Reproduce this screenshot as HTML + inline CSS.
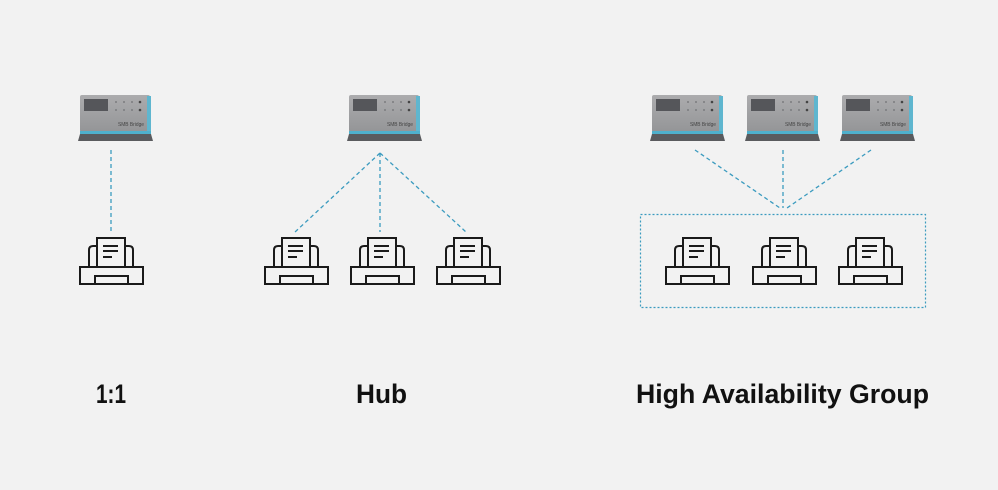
<!DOCTYPE html>
<html><head><meta charset="utf-8"><style>
html,body{margin:0;padding:0;background:#f2f2f2;}
svg{display:block;}
</style></head><body>
<svg width="998" height="490" viewBox="0 0 998 490" xmlns="http://www.w3.org/2000/svg">
<defs>
<linearGradient id="bg" x1="0" y1="0" x2="0" y2="1">
<stop offset="0" stop-color="#acacae"/><stop offset="1" stop-color="#949597"/>
</linearGradient>
<g id="dev">
<rect x="2" y="2" width="70" height="37" rx="2" fill="url(#bg)"/>
<rect x="69" y="3" width="4" height="35" fill="#5fb6cf"/>
<rect x="6" y="6" width="24" height="12" fill="#55565a"/>
<g fill="#7b7c7f"><circle cx="38" cy="9" r="1"/><circle cx="46" cy="9" r="1"/><circle cx="54" cy="9" r="1"/><circle cx="62" cy="9" r="1.3" fill="#444"/>
<circle cx="38" cy="17" r="1"/><circle cx="46" cy="17" r="1"/><circle cx="54" cy="17" r="1"/><circle cx="62" cy="17" r="1.3" fill="#444"/></g>
<text x="40" y="33" font-family="Liberation Sans, sans-serif" font-size="5.5" fill="#444" textLength="26" lengthAdjust="spacingAndGlyphs">SMB Bridge</text>
<rect x="2" y="38" width="71" height="3" fill="#4fb0cc"/>
<path d="M2 41 H73 L75 48 H0 Z" fill="#5a5b5e"/>
</g>
<g id="pr" fill="none" stroke="#1a1a1a" stroke-width="2">
<path d="M10 30 V13 Q10 9 14 9 H18 M54 30 V13 Q54 9 50 9 H46"/>
<rect x="18" y="1" width="28" height="29" fill="#f2f2f2"/>
<rect x="1" y="30" width="63" height="17"/>
<rect x="16" y="39" width="33" height="8"/>
<path d="M24 9 H39 M24 14 H39 M24 20 H33"/>
</g>
</defs>
<use href="#dev" x="78" y="93"/>
<use href="#dev" x="347" y="93"/>
<use href="#dev" x="650" y="93"/>
<use href="#dev" x="745" y="93"/>
<use href="#dev" x="840" y="93"/>
<g stroke="#3b9bbf" stroke-width="1.3" stroke-dasharray="4 3" fill="none">
<path d="M111 150 V232"/>
<path d="M380 153 L295 232 M380 153 V232 M380 153 L466 232"/>
<path d="M695 150 L780 208 M783 150 V208 M871 150 L787 208"/>
</g>
<rect x="640.5" y="214.5" width="285" height="93" fill="none" stroke="#3b9bbf" stroke-width="1.2" stroke-dasharray="2 2"/>
<use href="#pr" x="79" y="237"/>
<use href="#pr" x="264" y="237"/>
<use href="#pr" x="350" y="237"/>
<use href="#pr" x="436" y="237"/>
<use href="#pr" x="665" y="237"/>
<use href="#pr" x="752" y="237"/>
<use href="#pr" x="838" y="237"/>
<g font-family="Liberation Sans, sans-serif" font-size="27" font-weight="bold" fill="#111">
<text x="96" y="403" textLength="30" lengthAdjust="spacingAndGlyphs">1:1</text>
<text x="356" y="403" textLength="51" lengthAdjust="spacingAndGlyphs">Hub</text>
<text x="636" y="403" textLength="293" lengthAdjust="spacingAndGlyphs">High Availability Group</text>
</g>
</svg>
</body></html>
